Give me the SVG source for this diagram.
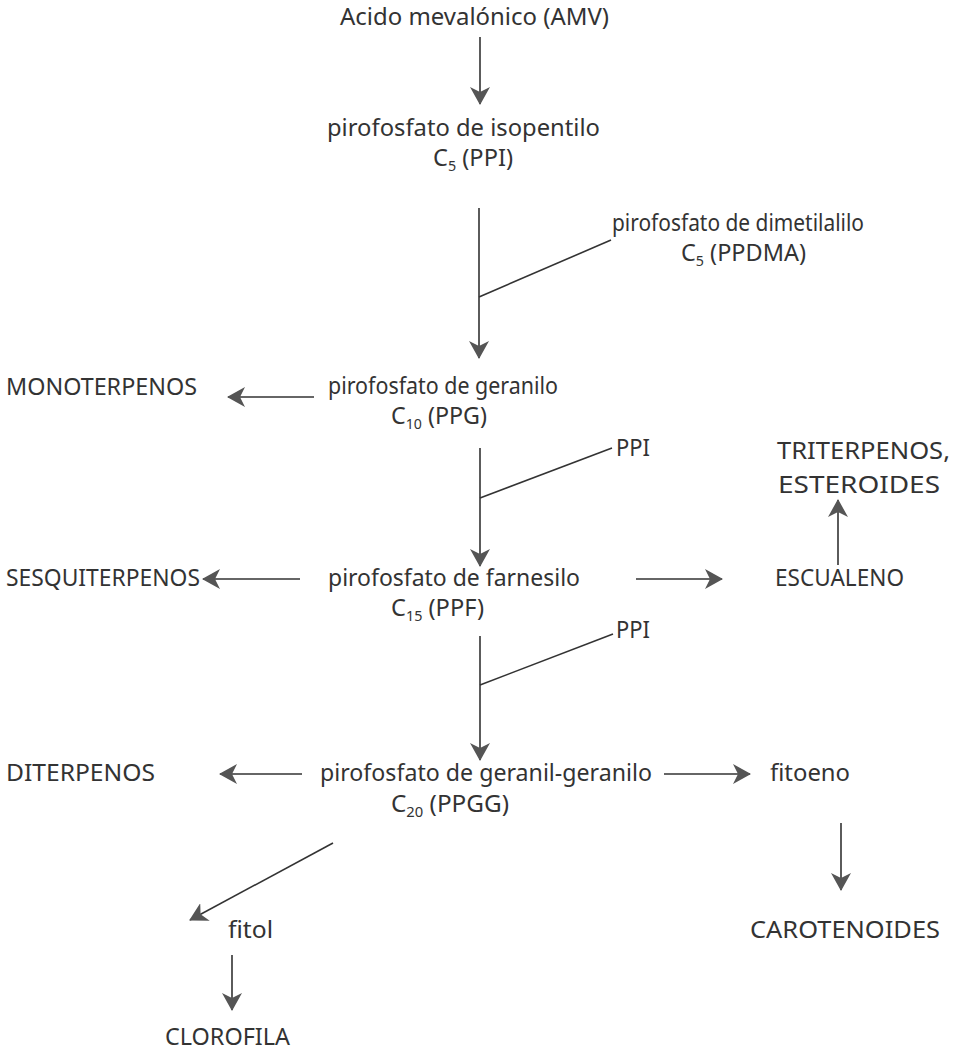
<svg xmlns="http://www.w3.org/2000/svg" width="953" height="1056" viewBox="0 0 953 1056">
  <style>
    text { font-family: "Noto Sans", "Open Sans", sans-serif; font-size: 23px; fill: #333; }
    .sub { font-size: 14px; }
    .ln { stroke: #333; stroke-width: 1.6; fill: none; }
    .ar { stroke: #333; stroke-width: 1.6; fill: none; marker-end: url(#head); }
  </style>
  <defs>
    <marker id="head" markerUnits="userSpaceOnUse" viewBox="0 0 18 20" refX="17" refY="10" markerWidth="18" markerHeight="20" orient="auto">
      <path d="M0,0 L18,10 L0,20 L5,10 z" fill="#555"/>
    </marker>
  </defs>

  <g id="connectors">
    <line class="ar" x1="480" y1="37" x2="480" y2="104"/>
    <line class="ar" x1="479" y1="208" x2="479" y2="358"/>
    <line class="ln" x1="479" y1="297" x2="611" y2="240"/>
    <line class="ar" x1="314" y1="397" x2="228" y2="397"/>
    <line class="ar" x1="480" y1="448" x2="480" y2="566"/>
    <line class="ln" x1="480" y1="498" x2="612" y2="448"/>
    <line class="ar" x1="838" y1="565" x2="838" y2="500"/>
    <line class="ar" x1="300" y1="579" x2="203" y2="579"/>
    <line class="ar" x1="636" y1="579" x2="722" y2="579"/>
    <line class="ar" x1="480" y1="636" x2="480" y2="760"/>
    <line class="ln" x1="480" y1="685" x2="613" y2="634"/>
    <line class="ar" x1="302" y1="774" x2="220" y2="774"/>
    <line class="ar" x1="664" y1="774" x2="750" y2="774"/>
    <line class="ar" x1="333" y1="843" x2="190" y2="920"/>
    <line class="ar" x1="232" y1="955" x2="232" y2="1010"/>
    <line class="ar" x1="841" y1="823" x2="841" y2="890"/>
  </g>

  <g id="amv"><text x="340" y="25" textLength="269" lengthAdjust="spacingAndGlyphs">Acido mevalónico (AMV)</text></g>
  <g id="ppi">
    <text x="327" y="136" textLength="273" lengthAdjust="spacingAndGlyphs">pirofosfato de isopentilo</text>
    <text x="433" y="166" textLength="80" lengthAdjust="spacingAndGlyphs">C<tspan class="sub" dy="5">5</tspan><tspan dy="-5"> (PPI)</tspan></text>
  </g>
  <g id="ppdma">
    <text x="612" y="231" textLength="252" lengthAdjust="spacingAndGlyphs">pirofosfato de dimetilalilo</text>
    <text x="681" y="261" textLength="125" lengthAdjust="spacingAndGlyphs">C<tspan class="sub" dy="5">5</tspan><tspan dy="-5"> (PPDMA)</tspan></text>
  </g>
  <g id="ppg">
    <text x="328" y="394" textLength="230" lengthAdjust="spacingAndGlyphs">pirofosfato de geranilo</text>
    <text x="391" y="424" textLength="96" lengthAdjust="spacingAndGlyphs">C<tspan class="sub" dy="5">10</tspan><tspan dy="-5"> (PPG)</tspan></text>
  </g>
  <g id="monoterpenos"><text x="6" y="395" textLength="191" lengthAdjust="spacingAndGlyphs">MONOTERPENOS</text></g>
  <g id="ppi-2"><text x="616" y="456" textLength="34" lengthAdjust="spacingAndGlyphs">PPI</text></g>
  <g id="triterpenos">
    <text x="777" y="459" textLength="173" lengthAdjust="spacingAndGlyphs">TRITERPENOS,</text>
    <text x="778" y="493" textLength="162" lengthAdjust="spacingAndGlyphs">ESTEROIDES</text>
  </g>
  <g id="sesquiterpenos"><text x="6" y="586" textLength="194" lengthAdjust="spacingAndGlyphs">SESQUITERPENOS</text></g>
  <g id="ppf">
    <text x="328" y="586" textLength="252" lengthAdjust="spacingAndGlyphs">pirofosfato de farnesilo</text>
    <text x="391" y="616" textLength="93" lengthAdjust="spacingAndGlyphs">C<tspan class="sub" dy="5">15</tspan><tspan dy="-5"> (PPF)</tspan></text>
  </g>
  <g id="escualeno"><text x="775" y="586" textLength="129" lengthAdjust="spacingAndGlyphs">ESCUALENO</text></g>
  <g id="ppi-3"><text x="616" y="638" textLength="34" lengthAdjust="spacingAndGlyphs">PPI</text></g>
  <g id="diterpenos"><text x="6" y="781" textLength="149" lengthAdjust="spacingAndGlyphs">DITERPENOS</text></g>
  <g id="ppgg">
    <text x="320" y="781" textLength="332" lengthAdjust="spacingAndGlyphs">pirofosfato de geranil-geranilo</text>
    <text x="391" y="812" textLength="118" lengthAdjust="spacingAndGlyphs">C<tspan class="sub" dy="5">20</tspan><tspan dy="-5"> (PPGG)</tspan></text>
  </g>
  <g id="fitoeno"><text x="770" y="781" textLength="80" lengthAdjust="spacingAndGlyphs">fitoeno</text></g>
  <g id="fitol"><text x="228" y="938" textLength="45" lengthAdjust="spacingAndGlyphs">fitol</text></g>
  <g id="clorofila"><text x="165" y="1045" textLength="125" lengthAdjust="spacingAndGlyphs">CLOROFILA</text></g>
  <g id="carotenoides"><text x="750" y="938" textLength="190" lengthAdjust="spacingAndGlyphs">CAROTENOIDES</text></g>
</svg>
